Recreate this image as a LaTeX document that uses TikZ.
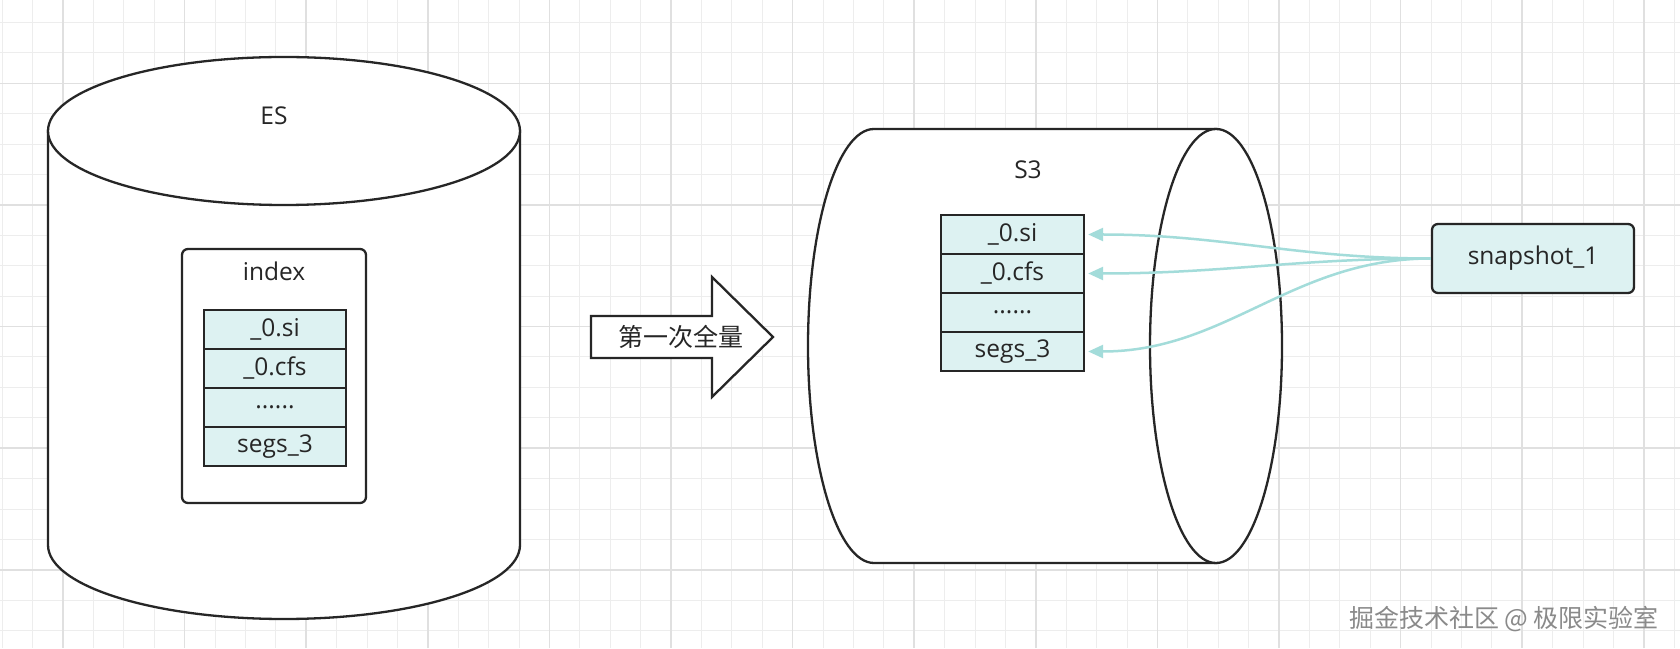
\documentclass[tikz,border=0pt]{standalone}
\usepackage{fontspec}
\setmainfont{Open Sans}
\newfontfamily\cjk{Noto Sans CJK SC}
\usetikzlibrary{arrows.meta}
\definecolor{ink}{HTML}{262626}
\definecolor{cellfill}{HTML}{DDF2F2}
\definecolor{edgecol}{HTML}{A3DCDA}
\definecolor{gridminor}{HTML}{EDEDED}
\definecolor{gridmajor}{HTML}{E0E0E0}
\definecolor{wm}{HTML}{8A8A8A}
\begin{document}
\begin{tikzpicture}[x=1pt,y=1pt,
  txt/.style={font=\fontsize{24.5}{29}\selectfont, text=ink},
  outline/.style={draw=ink, line width=2.3pt, fill=white},
  cell/.style={draw=ink, line width=2.3pt, fill=cellfill, minimum width=142pt, minimum height=39pt, inner sep=0pt, txt},
  roundbox/.style={draw=ink, line width=2.3pt, rounded corners=6pt},
  edge/.style={draw=edgecol, line width=2.5pt, -{Triangle[length=15pt,width=13pt]}},
  gminor/.style={draw=gridminor, line width=1pt},
  gmajor/.style={draw=gridmajor, line width=1.5pt}]
\useasboundingbox (0,0) rectangle (1680,648);
\fill[white] (0,0) rectangle (1680,648);
\begin{scope}
\clip (0,0) rectangle (1680,648);
\foreach \i in {0,...,55} \draw[gminor] ({2.2+\i*30.4},0) -- ++(0,648);
\foreach \j in {0,...,21} \draw[gminor] (0,{648-22.6-\j*30.4}) -- ++(1680,0);
\foreach \i in {0,...,13} \draw[gmajor] ({63+\i*121.6},0) -- ++(0,648);
\foreach \j in {0,...,4} \draw[gmajor] (0,{564.6-\j*121.6}) -- ++(1680,0);
\end{scope}

% ES cylinder
\path[outline] (48,517) -- (48,103) arc[start angle=180, end angle=360, x radius=236, y radius=74] -- (520,517) -- cycle;
\path[outline] (284,517) ellipse [x radius=236, y radius=74];
\node[txt] (es) at (274,532) {ES};
\node[roundbox, minimum width=184pt, minimum height=254pt] (idx) at (274,272) {};
\node[txt] (idxlabel) at (274,377) {index};
\node[cell] (a1) at (275,318.5) {\_0.si};
\node[cell] (a2) at (275,279.5) {\_0.cfs};
\node[cell] (a3) at (275,240.5) {......};
\node[cell] (a4) at (275,201.5) {segs\_3};

% big arrow
\path[outline] (591,332) -- (712,332) -- (712,371) -- (773,311) -- (712,251) -- (712,290) -- (591,290) -- cycle;
\node[txt, font=\cjk\fontsize{25}{29}\selectfont] (lbl) at (681,311) {第一次全量};

% S3 cylinder
\path[outline] (1216,519) -- (874,519) arc[start angle=90, end angle=270, x radius=66, y radius=217] -- (1216,85) -- cycle;
\path[outline] (1216,302) ellipse [x radius=66, y radius=217];
\node[txt] (s3) at (1028,478) {S3};
\node[cell, minimum width=143pt] (b1) at (1012.5,413.5) {\_0.si};
\node[cell, minimum width=143pt] (b2) at (1012.5,374.5) {\_0.cfs};
\node[cell, minimum width=143pt] (b3) at (1012.5,335.5) {......};
\node[cell, minimum width=143pt] (b4) at (1012.5,296.5) {segs\_3};

% snapshot
\node[roundbox, fill=cellfill, minimum width=202pt, minimum height=69pt, txt] (snap) at (1533,389.5) {snapshot\_1};

\draw[edge] (snap.west) to[out=180,in=0] ([xshift=3pt]b1.east);
\draw[edge] (snap.west) to[out=180,in=0] ([xshift=3pt]b2.east);
\draw[edge] (snap.west) to[out=180,in=0] ([xshift=3pt]b4.east);

% watermark
\node[font=\cjk\fontsize{25}{29}\selectfont, text=wm] (wmk) at (1504,29) {掘金技术社区 @ 极限实验室};
\end{tikzpicture}
\end{document}
